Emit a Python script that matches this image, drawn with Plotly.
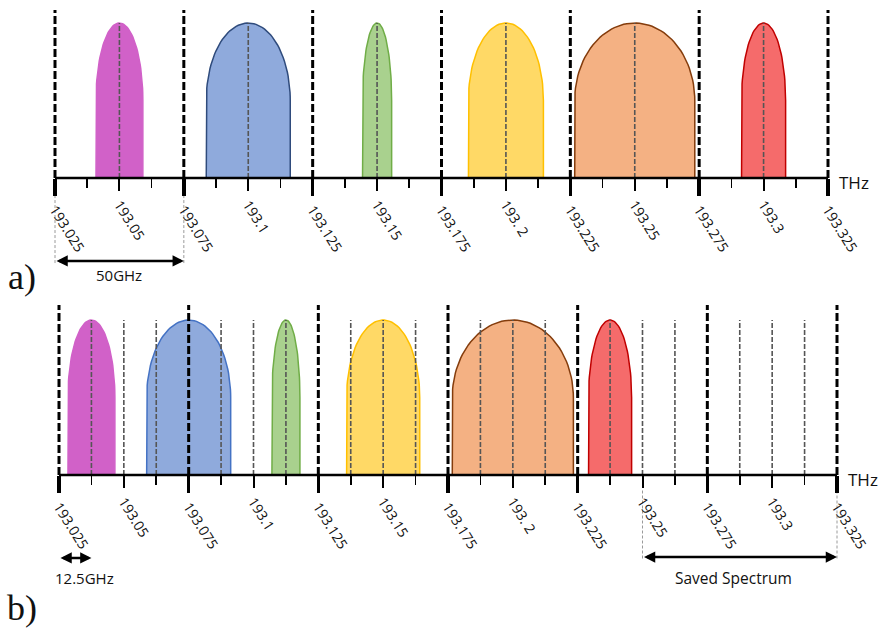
import numpy as np
import plotly.graph_objects as go

# ---------------- data ----------------
major_ticks = [193.025, 193.075, 193.125, 193.175, 193.225, 193.275, 193.325]
major_labels = ["193.025", "193.075", "193.125", "193.175", "193.225", "193.275", "193.325"]
mid_ticks = [193.05, 193.10, 193.15, 193.20, 193.25, 193.30]
mid_labels = ["193.05", "193.1", "193.15", "193. 2", "193.25", "193.3"]
minor_ticks = [193.0375, 193.0625, 193.0875, 193.1125, 193.1375, 193.1625, 193.1875,
               193.2125, 193.2375, 193.2625, 193.2875, 193.3125]

# panel a) channels (centre THz, width GHz)
top_centers = [193.05, 193.10, 193.15, 193.20, 193.25, 193.30]
top_widths_ghz = [18.2, 32.6, 11.3, 29.1, 46.6, 17.1]
# panel b) channels
bot_centers = [193.0375, 193.075, 193.1125, 193.15, 193.20, 193.2375]
bot_widths_ghz = [18.1, 32.4, 10.8, 28.2, 46.7, 16.6]

fill_colors = ["#D161C8", "#8FAADC", "#A9D18E", "#FFD966", "#F4B183", "#F56B6B"]
top_line_colors = ["#D161C8", "#2F4B7C", "#70AD47", "#FFC000", "#843C0C", "#C00000"]
bot_line_colors = ["#D161C8", "#4472C4", "#70AD47", "#FFC000", "#843C0C", "#C00000"]

# 12.5 GHz flexgrid slots (non-major) in panel b)
fine_grid = [193.0375, 193.05, 193.0625, 193.0875, 193.1, 193.1125, 193.1375, 193.15,
             193.1625, 193.1875, 193.2, 193.2125, 193.2375, 193.25, 193.2625, 193.2875,
             193.3, 193.3125]

span_50 = [193.025, 193.075]
span_12 = [193.025, 193.0375]
span_saved = [193.25, 193.325]

# ---------------- layout geometry ----------------
W, H = 879, 628
XR = [193.01, 193.34]
PXU = 155.0  # pixels per unit height


def xdomain(px0, px1):
    scale = (px1 - px0) / 0.3
    left = px0 - (193.025 - XR[0]) * scale
    right = px1 + (XR[1] - 193.325) * scale
    return [left / W, right / W]


def yrange(top_px, bot_px, axis_px):
    return [-(bot_px - axis_px) / PXU, (axis_px - top_px) / PXU]


TOP_AX, BOT_AX = 178, 475
SPLIT = 290

fig = go.Figure()


def channel_shape(c, wghz):
    w = wghz / 1000.0 / 2
    th = np.linspace(np.pi, 0, 60)
    xs = [c - w, c - w] + list(c + w * np.cos(th)) + [c + w, c - w]
    ys = [0, 0.5] + list(0.5 + 0.5 * np.sin(th)) + [0, 0]
    return xs, ys


def vlines(xvals, y0, y1):
    xs, ys = [], []
    for v in xvals:
        xs += [v, v, None]
        ys += [y0, y1, None]
    return xs, ys


def add_panel(xa, ya, centers, widths, lcolors, major_h, grid_vals, grid_h):
    for c, w, fc, lc in zip(centers, widths, fill_colors, lcolors):
        xs, ys = channel_shape(c, w)
        fig.add_trace(go.Scatter(x=xs, y=ys, fill="toself", fillcolor=fc, mode="lines",
                                 line=dict(color=lc, width=1.5), xaxis=xa, yaxis=ya,
                                 hoverinfo="skip", showlegend=False))
    xs, ys = vlines(grid_vals, 0, grid_h)
    fig.add_trace(go.Scatter(x=xs, y=ys, mode="lines",
                             line=dict(color="#555555", width=1.6, dash="5px,2px"),
                             xaxis=xa, yaxis=ya, hoverinfo="skip", showlegend=False))
    xs, ys = vlines(major_ticks, 0, major_h)
    fig.add_trace(go.Scatter(x=xs, y=ys, mode="lines",
                             line=dict(color="black", width=3, dash="8px,3px"),
                             xaxis=xa, yaxis=ya, hoverinfo="skip", showlegend=False))
    fig.add_trace(go.Scatter(x=[major_ticks[0], major_ticks[-1]], y=[0, 0], mode="lines",
                             line=dict(color="black", width=2.5),
                             xaxis=xa, yaxis=ya, hoverinfo="skip", showlegend=False))


add_panel("x", "y", top_centers, top_widths_ghz, top_line_colors, 1.084, top_centers, 1.0)
add_panel("x2", "y2", bot_centers, bot_widths_ghz, bot_line_colors, 1.097, fine_grid, 1.0)

# thin connectors below axis
xs, ys = vlines(span_50, -0.11, -0.56)
fig.add_trace(go.Scatter(x=xs, y=ys, mode="lines", line=dict(color="#9a9a9a", width=1, dash="3px,2px"),
                         xaxis="x", yaxis="y", hoverinfo="skip", showlegend=False))
xs, ys = vlines(span_saved, -0.10, -0.55)
fig.add_trace(go.Scatter(x=xs, y=ys, mode="lines", line=dict(color="#9a9a9a", width=1, dash="3px,2px"),
                         xaxis="x2", yaxis="y2", hoverinfo="skip", showlegend=False))

tick_font = dict(family="Open Sans", size=14, color="#111111")


def axis_pair(domain, pos):
    base = dict(domain=domain, range=XR, anchor="free", position=pos, showline=False,
                showgrid=False, zeroline=False, ticks="outside", tickmode="array",
                tickvals=major_ticks, ticktext=major_labels, ticklen=17, tickwidth=3.5,
                tickcolor="black", tickangle=58, tickfont=tick_font,
                minor=dict(tickmode="array", tickvals=minor_ticks, ticklen=9,
                           tickwidth=1.6, tickcolor="black", ticks="outside", showgrid=False))
    over = dict(range=XR, anchor="free", position=pos, showline=False, showgrid=False,
                zeroline=False, ticks="outside", tickmode="array", tickvals=mid_ticks,
                ticktext=mid_labels, ticklen=12, tickwidth=2, tickcolor="black",
                tickangle=58, tickfont=tick_font)
    return base, over


xt, xt_o = axis_pair(xdomain(55, 828), 1 - TOP_AX / H)
xb, xb_o = axis_pair(xdomain(59, 837), 1 - BOT_AX / H)
xt_o["overlaying"] = "x"
xb_o["overlaying"] = "x2"

fig.update_layout(
    width=W, height=H, margin=dict(l=0, r=0, t=0, b=0),
    paper_bgcolor="white", plot_bgcolor="white", showlegend=False,
    xaxis=xt, xaxis3=xt_o, xaxis2=xb, xaxis4=xb_o,
    yaxis=dict(domain=[1 - SPLIT / H, 1], range=yrange(0, SPLIT, TOP_AX), visible=False, fixedrange=True),
    yaxis2=dict(domain=[0, 1 - SPLIT / H], range=yrange(SPLIT, H, BOT_AX), visible=False, fixedrange=True),
)

# invisible traces to register overlay axes
fig.add_trace(go.Scatter(x=[mid_ticks[0]], y=[0], xaxis="x3", yaxis="y", mode="markers",
                         marker=dict(opacity=0), hoverinfo="skip", showlegend=False))
fig.add_trace(go.Scatter(x=[mid_ticks[0]], y=[0], xaxis="x4", yaxis="y2", mode="markers",
                         marker=dict(opacity=0), hoverinfo="skip", showlegend=False))

txt_font = dict(family="Open Sans", size=15, color="#111111")
ann = []


def darrow(xr, yr, x0, x1, y):
    ann.append(dict(xref=xr, yref=yr, axref=xr, ayref=yr, x=x1, y=y, ax=x0, ay=y, text="",
                    showarrow=True, arrowside="end+start", arrowhead=2, arrowsize=0.9,
                    arrowwidth=2.5, arrowcolor="black", standoff=0, startstandoff=0))


darrow("x", "y", span_50[0], span_50[1], -0.535)
ann.append(dict(xref="x", yref="y", x=sum(span_50) / 2, y=-0.626, text="50GHz", showarrow=False,
                font=txt_font))
darrow("x2", "y2", span_12[0], span_12[1], -0.535)
ann.append(dict(xref="x2", yref="y2", x=sum(span_12) / 2, xshift=9, y=-0.665, text="12.5GHz",
                showarrow=False, font=txt_font))
darrow("x2", "y2", span_saved[0], span_saved[1], -0.529)
ann.append(dict(xref="x2", yref="y2", x=sum(span_saved) / 2, xshift=-6, y=-0.665,
                text="Saved Spectrum", showarrow=False,
                font=dict(family="Open Sans", size=15.5, color="#111111")))

for xr, yr in (("x", "y"), ("x2", "y2")):
    ann.append(dict(xref=xr, yref=yr, x=major_ticks[-1], y=0, xanchor="left", yanchor="middle",
                    xshift=9, yshift=-4, text="THz", showarrow=False,
                    font=dict(family="Open Sans", size=17, color="#111111")))

ann.append(dict(xref="paper", yref="paper", x=22 / W, y=1 - 277 / H, text="a)",
                xanchor="center", yanchor="middle", showarrow=False,
                font=dict(family="Liberation Serif", size=36, color="#111111")))
ann.append(dict(xref="paper", yref="paper", x=22 / W, y=1 - 608 / H, text="b)",
                xanchor="center", yanchor="middle", showarrow=False,
                font=dict(family="Liberation Serif", size=36, color="#111111")))

fig.update_layout(annotations=ann)
fig.write_html("out.html", config={"displayModeBar": False, "staticPlot": True},
               post_script="document.body.style.margin='0';document.body.style.overflow='hidden';")
